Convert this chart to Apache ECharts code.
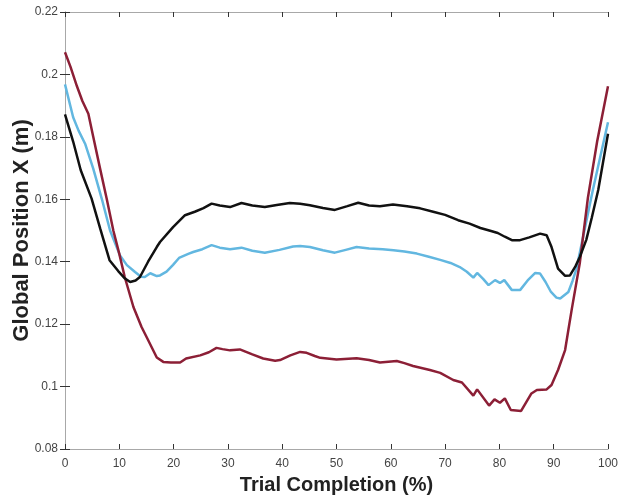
<!DOCTYPE html>
<html>
<head>
<meta charset="utf-8">
<script src="https://cdn.jsdelivr.net/npm/echarts@6/dist/echarts.min.js"></script>
<style>html,body{margin:0;padding:0;background:#fff}#c{width:618px;height:500px}</style>
</head>
<body>
<div id="c"></div>
<script>
const xTicks = [0, 10, 20, 30, 40, 50, 60, 70, 80, 90, 100];
const yTicks = [0.08, 0.10, 0.12, 0.14, 0.16, 0.18, 0.20, 0.22];

const blackX = [0, 1.5, 2.9, 4.9, 6.5, 8.2, 9.8, 11.05, 12, 13, 13.8, 15.3, 16.9, 17.5, 19.9, 22.1, 23.9, 25.5, 27, 28.5, 30.4, 32.5, 34.5, 36.8, 39, 41.4, 43.3, 45.1, 47.5, 49.7, 52, 54, 56, 58, 60.4, 63, 65.4, 67.8, 70, 72.4, 74.5, 76.5, 78.3, 79.7, 81, 82.3, 83.8, 85.5, 87.5, 88.7, 89.6, 90.8, 92.1, 93, 94, 94.8, 96, 97, 98.2, 100];
const blackY = [0.1872, 0.1785, 0.1693, 0.1602, 0.1505, 0.1405, 0.1370, 0.1346, 0.1335, 0.1340, 0.1351, 0.1400, 0.1447, 0.1463, 0.1511, 0.1549, 0.1560, 0.1572, 0.1586, 0.1580, 0.1575, 0.1588, 0.1580, 0.1575, 0.1582, 0.1588, 0.1586, 0.1581, 0.1572, 0.1566, 0.1578, 0.1589, 0.1580, 0.1578, 0.1583, 0.1578, 0.1571, 0.1560, 0.1550, 0.1533, 0.1522, 0.1508, 0.1499, 0.1492, 0.1480, 0.1469, 0.1469, 0.1478, 0.1490, 0.1485, 0.1447, 0.1378, 0.1355, 0.1356, 0.1385, 0.1415, 0.1470, 0.1540, 0.1630, 0.1810];

const blueX = [0, 1.5, 2.5, 3.7, 5.2, 6.8, 8.3, 10.1, 11.4, 12.9, 14, 14.7, 15.7, 16.9, 17.5, 18.7, 19.9, 21, 22.7, 23.6, 25.3, 27, 28.5, 30.4, 32.5, 34.5, 36.8, 39.5, 42, 43.3, 45.1, 47.5, 49.7, 51.7, 53.7, 56, 58.5, 60.5, 62.5, 64.8, 67, 69.1, 71, 72.7, 74, 75.2, 75.9, 77, 78, 79.2, 80.1, 80.9, 82.3, 83.8, 85.2, 86.6, 87.5, 88.5, 89.5, 90.5, 91.2, 92.7, 93.5, 94.2, 97.2, 100];
const blueY = [0.1968, 0.1863, 0.1820, 0.1778, 0.1698, 0.1600, 0.1500, 0.1421, 0.1389, 0.1367, 0.1352, 0.1351, 0.1363, 0.1354, 0.1356, 0.1368, 0.1390, 0.1412, 0.1425, 0.1431, 0.1440, 0.1453, 0.1445, 0.1440, 0.1445, 0.1435, 0.1429, 0.1438, 0.1449, 0.1450, 0.1447, 0.1437, 0.1429, 0.1438, 0.1447, 0.1442, 0.1440, 0.1437, 0.1433, 0.1426, 0.1416, 0.1406, 0.1396, 0.1383, 0.1368, 0.1349, 0.1364, 0.1345, 0.1325, 0.1341, 0.1332, 0.1341, 0.1309, 0.1309, 0.1340, 0.1364, 0.1362, 0.1335, 0.1303, 0.1285, 0.1282, 0.1303, 0.1340, 0.1378, 0.1629, 0.1847];

const redX = [0, 1, 2.2, 3.2, 4.3, 5.2, 6.4, 7.7, 8.9, 10, 11, 12.6, 14.1, 15.3, 16.9, 18.1, 19.5, 21.2, 22.3, 24.9, 26.5, 27.9, 29, 30.4, 32.2, 34.5, 36.5, 38.7, 39.6, 41.5, 43.3, 44.5, 46, 47, 50, 53.7, 56, 58, 61.1, 62.5, 64.1, 67.2, 69.1, 71.5, 73.1, 75.2, 75.9, 78.1, 79.1, 80.1, 81, 82.1, 84, 85.9, 86.9, 88.7, 89.6, 90.8, 92.1, 92.7, 93.3, 94.8, 96.3, 98, 100];
const redY = [0.2071, 0.2025, 0.1962, 0.1915, 0.1874, 0.1800, 0.1703, 0.1600, 0.1500, 0.1425, 0.1351, 0.1255, 0.1191, 0.1149, 0.1093, 0.1079, 0.1077, 0.1077, 0.1090, 0.1100, 0.1110, 0.1124, 0.1120, 0.1116, 0.1119, 0.1103, 0.1090, 0.1083, 0.1085, 0.1100, 0.1111, 0.1108, 0.1098, 0.1092, 0.1087, 0.1091, 0.1085, 0.1077, 0.1082, 0.1075, 0.1066, 0.1053, 0.1044, 0.1021, 0.1013, 0.0971, 0.0991, 0.0939, 0.0959, 0.0948, 0.0962, 0.0925, 0.0922, 0.0978, 0.0989, 0.0991, 0.1005, 0.1053, 0.1117, 0.1181, 0.1245, 0.1395, 0.1605, 0.1785, 0.1962];

const pairs = (xs, ys) => xs.map((x, i) => [x, ys[i]]);
const fmtY = v => String(+v.toFixed(2));

const FONT = '"Liberation Sans", Arial, Helvetica, sans-serif';
const axisLineStyle = { color: '#a8a8a8', width: 1 };
const tickStyle = { show: true, inside: true, length: 5, lineStyle: { color: '#333', width: 1 } };

const chart = echarts.init(document.getElementById('c'), null, { renderer: 'canvas' });
chart.setOption({
  animation: false,
  backgroundColor: '#fff',
  grid: { left: 65, right: 10, top: 12, bottom: 51, containLabel: false, outerBoundsMode: 'none' },
  xAxis: [
    {
      type: 'value', min: xTicks[0], max: xTicks[xTicks.length - 1], interval: 10, position: 'bottom',
      name: 'Trial Completion (%)', nameLocation: 'middle', nameGap: 26,
      nameTextStyle: { fontFamily: FONT, fontWeight: 'bold', fontSize: 20, color: '#222' },
      axisLine: { show: true, lineStyle: axisLineStyle },
      axisTick: tickStyle,
      axisLabel: { fontFamily: FONT, fontSize: 12, color: '#444', margin: 9 },
      splitLine: { show: false }
    },
    {
      type: 'value', min: xTicks[0], max: xTicks[xTicks.length - 1], interval: 10, position: 'top',
      axisLine: { show: true, lineStyle: axisLineStyle },
      axisTick: tickStyle,
      axisLabel: { show: false },
      splitLine: { show: false }
    }
  ],
  yAxis: [
    {
      type: 'value', min: yTicks[0], max: yTicks[yTicks.length - 1], interval: 0.02, position: 'left',
      name: 'Global Position X (m)', nameLocation: 'middle', nameGap: 32, nameMoveOverlap: false,
      nameTextStyle: { fontFamily: FONT, fontWeight: 'bold', fontSize: 22, color: '#222' },
      axisLine: { show: true, lineStyle: axisLineStyle },
      axisTick: tickStyle,
      axisLabel: { fontFamily: FONT, fontSize: 12, color: '#444', margin: 7, formatter: fmtY },
      splitLine: { show: false }
    },
    {
      type: 'value', min: yTicks[0], max: yTicks[yTicks.length - 1], interval: 0.02, position: 'right',
      axisLine: { show: true, lineStyle: axisLineStyle },
      axisTick: tickStyle,
      axisLabel: { show: false },
      splitLine: { show: false }
    }
  ],
  series: [
    { name: 'Red', type: 'line', data: pairs(redX, redY), showSymbol: false, symbol: 'none',
      lineStyle: { color: '#8c1f36', width: 2.5 }, itemStyle: { color: '#8c1f36' }, z: 3 },
    { name: 'Blue', type: 'line', data: pairs(blueX, blueY), showSymbol: false, symbol: 'none',
      lineStyle: { color: '#62b7e0', width: 2.5 }, itemStyle: { color: '#62b7e0' }, z: 2 },
    { name: 'Black', type: 'line', data: pairs(blackX, blackY), showSymbol: false, symbol: 'none',
      lineStyle: { color: '#111111', width: 2.5 }, itemStyle: { color: '#111111' }, z: 4 }
  ]
});
</script>
</body>
</html>
